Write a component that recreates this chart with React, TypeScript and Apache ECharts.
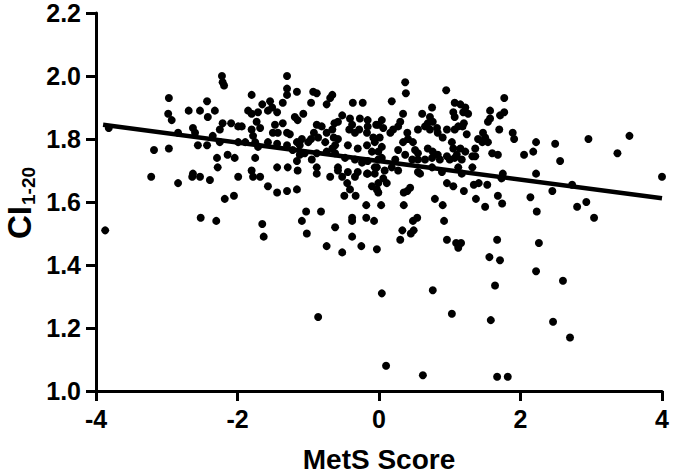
import React, { useEffect, useRef } from "react";
import * as echarts from "echarts";

// Axis settings
const xTicks = { min: -4, max: 4, interval: 2 };
const yTicks = { min: 1.0, max: 2.2, interval: 0.2 };

// Linear fit end points (MetS Score, CI)
const fitX = [-3.9, 4.0];
const fitY = [1.845, 1.612];

// Scatter points [MetS Score, CI1-20], grouped by region of the plot
const farLeft = [
  [-2.22, 2.0], [-2.21, 1.98], [-2.19, 1.97], [-2.97, 1.93], [-2.43, 1.92], [-2.98, 1.88], [-2.93, 1.86],
  [-2.69, 1.89], [-2.53, 1.89], [-2.32, 1.89], [-2.42, 1.87], [-3.82, 1.835], [-2.21, 1.85], [-2.09, 1.85],
  [-2.25, 1.83], [-2.63, 1.835], [-2.6, 1.82], [-2.84, 1.82], [-2.35, 1.81], [-1.99, 1.84], [-2.56, 1.78],
  [-2.43, 1.78], [-2.25, 1.79], [-3.18, 1.765], [-2.97, 1.77], [-2.29, 1.74], [-2.28, 1.71], [-2.14, 1.75],
  [-2.04, 1.74], [-2.63, 1.69], [-3.87, 1.51], [-3.22, 1.68], [-2.84, 1.66], [-2.64, 1.68], [-2.53, 1.68],
  [-2.39, 1.67], [-1.99, 1.68], [-2.05, 1.62], [-2.18, 1.61], [-2.52, 1.55], [-2.3, 1.54],
];

const upperCenterLeft = [
  [-1.3, 2.0], [-1.8, 1.94], [-1.3, 1.96], [-1.3, 1.94], [-1.16, 1.95], [-0.93, 1.95], [-0.88, 1.945],
  [-0.66, 1.94], [-0.69, 1.93], [-0.74, 1.91], [-0.37, 1.915], [-0.23, 1.915], [-0.96, 1.915], [-1.65, 1.91],
  [-1.54, 1.92], [-1.51, 1.9], [-1.44, 1.885], [-1.57, 1.89], [-1.36, 1.915], [-1.85, 1.89], [-1.8, 1.88],
  [-1.71, 1.885], [-1.07, 1.88], [-1.19, 1.87], [-1.15, 1.86], [-1.94, 1.84], [-1.73, 1.855], [-1.68, 1.835],
  [-1.8, 1.83], [-1.78, 1.81], [-1.47, 1.845], [-1.36, 1.85], [-1.5, 1.82], [-1.43, 1.82], [-1.3, 1.82],
  [-1.26, 1.815], [-0.88, 1.845], [-0.81, 1.84], [-0.74, 1.82], [-0.92, 1.82], [-0.96, 1.8], [-0.86, 1.805],
  [-0.52, 1.875], [-0.58, 1.855], [-0.63, 1.85], [-0.41, 1.865], [-0.38, 1.845], [-0.42, 1.83], [-0.34, 1.82],
  [-0.27, 1.865], [-0.16, 1.86], [-0.16, 1.84], [-0.17, 1.82], [-0.04, 1.845], [-0.08, 1.805], [-0.28, 1.83],
  [-0.66, 1.83], [-0.64, 1.805], [-0.58, 1.8], [-1.09, 1.8], [-1.16, 1.79], [-1.0, 1.79], [-1.12, 1.78],
];

const middleCenterLeft = [
  [-1.99, 1.79], [-1.89, 1.79], [-1.75, 1.79], [-1.71, 1.775], [-1.57, 1.79], [-1.44, 1.785], [-1.3, 1.78],
  [-0.76, 1.79], [-0.66, 1.77], [-0.62, 1.78], [-0.44, 1.78], [-0.3, 1.77], [-0.17, 1.78], [-0.1, 1.76],
  [-1.22, 1.765], [-1.12, 1.75], [-1.05, 1.755], [-0.95, 1.735], [-0.88, 1.755], [-1.75, 1.74], [-1.44, 1.71],
  [-1.29, 1.71], [-1.16, 1.73], [-1.15, 1.7], [-0.88, 1.71], [-0.74, 1.76], [-0.62, 1.755], [-0.48, 1.74],
  [-0.34, 1.735], [-0.24, 1.725], [-0.16, 1.73], [-0.06, 1.71], [-0.01, 1.735], [-0.58, 1.71], [-0.44, 1.695],
  [-0.3, 1.695], [-0.17, 1.69],
];

const lowerCenterLeft = [
  [-1.78, 1.68], [-1.68, 1.68], [-1.8, 1.7], [-1.57, 1.65], [-1.44, 1.63], [-1.3, 1.635], [-1.16, 1.64],
  [-1.65, 1.53], [-1.63, 1.49], [-1.03, 1.57], [-1.09, 1.54], [-1.02, 1.5], [-0.82, 1.57], [-0.62, 1.52],
  [-0.74, 1.46], [-0.52, 1.44], [-0.38, 1.55], [-0.38, 1.54], [-0.38, 1.49], [-0.25, 1.46], [-0.03, 1.45],
  [-0.18, 1.59], [-0.18, 1.55], [-0.07, 1.54], [-0.49, 1.62], [-0.33, 1.62], [-0.88, 1.69], [-0.69, 1.68],
  [-0.45, 1.66], [-0.41, 1.64], [-0.52, 1.68], [-0.34, 1.68], [-0.1, 1.65], [-0.03, 1.64], [-0.16, 1.69],
  [-0.06, 1.69], [-0.58, 1.7], [-0.86, 1.235],
];

const upperCenterRight = [
  [0.37, 1.98], [0.38, 1.945], [0.95, 1.955], [1.77, 1.93], [0.18, 1.92], [0.75, 1.9], [0.61, 1.88],
  [0.72, 1.87], [0.76, 1.855], [0.69, 1.85], [0.82, 1.835], [0.72, 1.83], [1.07, 1.915], [1.15, 1.91],
  [1.22, 1.9], [1.19, 1.885], [1.26, 1.88], [1.05, 1.885], [1.07, 1.87], [1.2, 1.85], [1.18, 1.84],
  [1.57, 1.89], [1.57, 1.865], [1.54, 1.855], [1.71, 1.875], [1.77, 1.885], [1.7, 1.83], [1.89, 1.82],
  [1.91, 1.8], [0.34, 1.88], [0.3, 1.855], [0.27, 1.84], [0.2, 1.83], [0.04, 1.86], [-0.01, 1.845],
  [0.06, 1.835], [0.16, 1.82], [0.01, 1.805], [-0.06, 1.79], [0.04, 1.775], [-0.01, 1.76], [0.55, 1.83],
  [0.4, 1.82], [0.41, 1.8], [0.48, 1.79], [0.34, 1.79], [0.65, 1.84], [0.83, 1.82], [0.96, 1.83],
  [0.9, 1.805], [1.07, 1.83], [1.12, 1.84], [1.24, 1.815], [1.4, 1.8], [1.47, 1.82], [1.46, 1.79],
  [1.54, 1.79], [1.5, 1.805],
];

const middleCenterRight = [
  [0.27, 1.765], [0.51, 1.765], [0.55, 1.755], [1.03, 1.79], [1.05, 1.77], [1.15, 1.77], [1.1, 1.75],
  [1.22, 1.76], [1.32, 1.745], [1.36, 1.77], [0.69, 1.77], [0.76, 1.76], [0.83, 1.75], [0.75, 1.74],
  [0.86, 1.735], [0.65, 1.735], [0.04, 1.74], [0.23, 1.735], [0.18, 1.71], [0.37, 1.75], [0.47, 1.735],
  [0.55, 1.735], [0.96, 1.745], [1.0, 1.735], [1.07, 1.74], [1.17, 1.735], [1.32, 1.71], [1.36, 1.745],
  [1.6, 1.755], [1.68, 1.75], [-0.03, 1.71], [0.08, 1.7], [0.27, 1.7], [0.55, 1.695], [0.75, 1.71],
  [0.89, 1.695], [1.12, 1.71], [1.17, 1.69],
];

const lowerCenterRight = [
  [-0.01, 1.66], [0.06, 1.675], [0.11, 1.66], [-0.01, 1.63], [0.03, 1.59], [0.35, 1.59], [0.35, 1.63],
  [0.4, 1.635], [0.44, 1.645], [0.54, 1.55], [0.48, 1.54], [0.49, 1.51], [0.45, 1.5], [0.33, 1.51],
  [0.3, 1.48], [0.58, 1.69], [0.79, 1.61], [0.9, 1.59], [0.92, 1.54], [0.96, 1.66], [1.05, 1.65],
  [1.2, 1.635], [1.34, 1.655], [1.41, 1.66], [1.53, 1.655], [1.37, 1.61], [1.5, 1.585], [0.96, 1.48],
  [1.09, 1.47], [1.16, 1.47], [1.12, 1.455], [1.68, 1.62], [1.74, 1.595], [1.67, 1.48], [1.56, 1.425],
  [1.71, 1.415], [1.75, 1.69], [1.73, 1.675], [0.04, 1.31], [0.76, 1.32], [1.64, 1.335], [1.03, 1.245],
  [1.58, 1.225], [0.1, 1.08], [0.62, 1.05], [1.67, 1.045], [1.82, 1.045],
];

const farRight = [
  [2.22, 1.79], [2.18, 1.76], [2.05, 1.75], [2.49, 1.785], [2.56, 1.73], [2.96, 1.8], [3.54, 1.81],
  [3.37, 1.755], [2.22, 1.69], [4.0, 1.68], [2.73, 1.655], [2.45, 1.635], [2.14, 1.615], [2.23, 1.57],
  [2.93, 1.6], [2.8, 1.585], [3.04, 1.55], [2.26, 1.47], [2.22, 1.38], [2.6, 1.35], [2.46, 1.22],
  [2.7, 1.17],
];

const FONT = '"Liberation Sans", Arial, Helvetica, sans-serif';

export default function App() {
  const ref = useRef<HTMLDivElement>(null);

  useEffect(() => {
    if (!ref.current) return;
    const chart = echarts.init(ref.current, undefined, { renderer: "svg" });
    const points = [
      ...farLeft,
      ...upperCenterLeft,
      ...middleCenterLeft,
      ...lowerCenterLeft,
      ...upperCenterRight,
      ...middleCenterRight,
      ...lowerCenterRight,
      ...farRight,
    ];
    const fitData = fitX.map((x, i) => [x, fitY[i]]);

    const axisCommon = {
      type: "value" as const,
      splitLine: { show: false },
      axisLine: { show: true, onZero: false, lineStyle: { color: "#000", width: 3 } },
      axisTick: { show: true, inside: false, length: 10, lineStyle: { color: "#000", width: 3 } },
    };

    chart.setOption({
      animation: false,
      backgroundColor: "#fff",
      grid: { left: 96, right: 13, top: 13, bottom: 85 },
      xAxis: {
        ...axisCommon,
        min: xTicks.min,
        max: xTicks.max,
        interval: xTicks.interval,
        axisLabel: {
          margin: 15,
          color: "#000",
          fontSize: 25,
          fontWeight: "bold",
          fontFamily: FONT,
        },
      },
      yAxis: {
        ...axisCommon,
        min: yTicks.min,
        max: yTicks.max,
        interval: yTicks.interval,
        axisLabel: {
          margin: 15,
          color: "#000",
          fontSize: 25,
          fontWeight: "bold",
          fontFamily: FONT,
          formatter: (v: number) => v.toFixed(1),
        },
      },
      series: [
        {
          type: "scatter",
          data: points,
          symbol: "circle",
          symbolSize: 8,
          itemStyle: { color: "#000", opacity: 1 },
          silent: true,
        },
        {
          type: "line",
          data: fitData,
          symbol: "none",
          lineStyle: { color: "#000", width: 4.5 },
          silent: true,
          z: 3,
        },
      ],
      graphic: [
        {
          type: "text",
          x: 379,
          y: 459,
          style: {
            text: "MetS Score",
            font: `bold 28px ${FONT}`,
            fill: "#000",
            textAlign: "center",
            textVerticalAlign: "middle",
            align: "center",
            verticalAlign: "middle",
          },
        },
        {
          type: "group",
          x: 19,
          y: 239,
          rotation: Math.PI / 2,
          children: [
            {
              type: "text",
              x: 0,
              y: 0,
              style: {
                text: "CI",
                font: `bold 33px ${FONT}`,
                fill: "#000",
                textAlign: "left",
                textVerticalAlign: "middle",
                align: "left",
                verticalAlign: "middle",
              },
            },
            {
              type: "text",
              x: 34,
              y: 9,
              style: {
                text: "1-20",
                font: `bold 19px ${FONT}`,
                fill: "#000",
                textAlign: "left",
                textVerticalAlign: "middle",
                align: "left",
                verticalAlign: "middle",
              },
            },
          ],
        },
      ],
    });
    return () => chart.dispose();
  }, []);

  return (
    <div
      ref={ref}
      style={{ position: "absolute", left: 0, top: 0, width: 675, height: 476, background: "#fff" }}
    />
  );
}
